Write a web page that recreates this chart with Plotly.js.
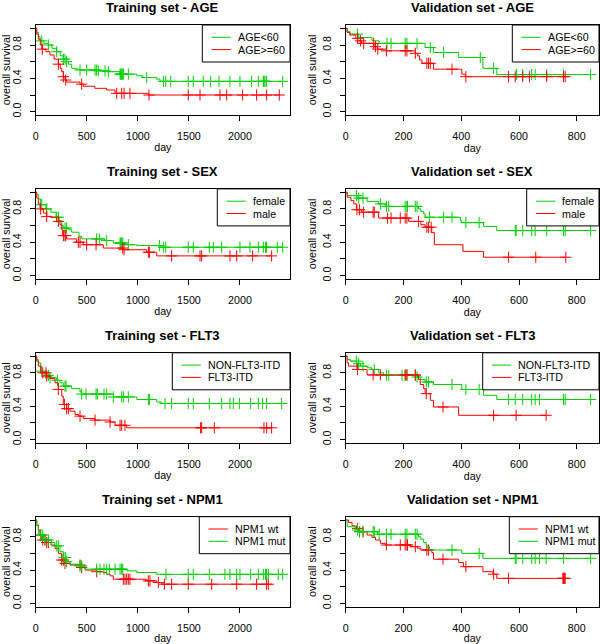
<!DOCTYPE html>
<html><head><meta charset="utf-8">
<script src="https://cdn.plot.ly/plotly-3.0.1.min.js"></script>
<style>html,body{margin:0;padding:0;background:#fff}#chart{width:600px;height:644px}</style>
</head><body><div id="chart"></div>
<script>
const FONT = 'Liberation Sans, Arial, Helvetica, sans-serif';
const GREEN = '#00CD00', RED = '#FF0000';

const panelTitles = ['Training set - AGE','Validation set - AGE','Training set - SEX','Validation set - SEX',
  'Training set - FLT3','Validation set - FLT3','Training set - NPM1','Validation set - NPM1'];
const trainTicks = [0,500,1000,1500,2000];
const validTicks = [0,200,400,600,800];
const survTicks = [0,0.2,0.4,0.6,0.8,1.0];
const survTickText = ['0.0','','0.4','','0.8',''];

// Training set - AGE
const trainAgeLt60Days = [0,10,26,42,80,124,160,205,240,270,300,320,352,400,434,600,700,825,990,1050,1185,1217];
const trainAgeLt60Surv = [1,0.95,0.90,0.85,0.82,0.80,0.76,0.72,0.67,0.63,0.60,0.57,0.52,0.51,0.50,0.49,0.48,0.45,0.43,0.41,0.39,0.364];
const trainAgeLt60Cens = [59,124,206,271,287,303,434,499,581,597,613,679,711,826,832,842,852,858,907,1087,1250,1273,1322,1494,1543,1641,1713,1795,1902,2000,2114,2180,2229,2235,2245,2261,2418];
const trainAgeGe60Days = [0,10,26,45,59,100,140,180,222,240,255,270,287,303,434,467,580,695,777,1103];
const trainAgeGe60Surv = [1,0.93,0.87,0.80,0.75,0.72,0.68,0.63,0.57,0.52,0.48,0.42,0.38,0.355,0.33,0.305,0.28,0.26,0.22,0.20];
const trainAgeGe60Cens = [65,222,271,294,450,793,842,865,923,1109,1494,1609,1804,1870,2026,2163,2261,2385];

// Validation set - AGE
const validAgeLt60Days = [0,5,16,45,91,116,275,304,391,475,523];
const validAgeLt60Surv = [1,0.96,0.93,0.89,0.85,0.82,0.77,0.71,0.65,0.52,0.445];
const validAgeLt60Cens = [41,143,157,206,212,247,293,339,466,512,592,613,644,656,696,754,848];
const validAgeGe60Days = [0,5,14,35,42,55,98,110,140,241,249,256,264,304,402,414];
const validAgeGe60Surv = [1,0.95,0.92,0.88,0.85,0.82,0.78,0.75,0.73,0.70,0.67,0.62,0.58,0.51,0.45,0.42];
const validAgeGe60Cens = [41,51,62,97,103,111,141,206,212,241,281,287,293,368,416,564,587,613,636,696,754,760];

// Training set - SEX
const trainSexFemaleDays = [0,10,26,49,100,150,200,230,255,270,320,352,424,450,679,760,875,990,1217];
const trainSexFemaleSurv = [1,0.97,0.92,0.85,0.80,0.76,0.70,0.66,0.60,0.57,0.55,0.52,0.47,0.44,0.42,0.39,0.37,0.36,0.34];
const trainSexFemaleCens = [59,108,206,222,287,303,597,623,695,826,832,842,852,907,1211,1250,1273,1494,1543,1700,1739,1821,2000,2098,2180,2229,2251,2261,2366,2418];
const trainSexMaleDays = [0,10,26,42,75,108,140,205,238,255,264,303,401,467,662,858,1087,1185];
const trainSexMaleSurv = [1,0.93,0.86,0.80,0.75,0.71,0.70,0.65,0.61,0.55,0.48,0.44,0.40,0.37,0.33,0.31,0.28,0.236];
const trainSexMaleCens = [49,108,222,271,287,294,418,434,499,591,852,865,1103,1113,1331,1609,1625,1902,1968,2124,2310];

// Validation set - SEX
const validSexFemaleDays = [0,5,39,74,114,137,252,260,270,275,397,402,477,523];
const validSexFemaleSurv = [1,0.96,0.93,0.89,0.86,0.83,0.80,0.77,0.74,0.70,0.66,0.635,0.59,0.54];
const validSexFemaleCens = [37,45,60,120,141,149,206,212,214,241,247,290,339,368,416,462,587,590,613,644,656,696,754,760,848];
const validSexMaleDays = [0,5,18,28,37,56,114,218,260,275,298,307,406,477];
const validSexMaleSurv = [1,0.94,0.90,0.86,0.79,0.76,0.69,0.65,0.61,0.58,0.515,0.37,0.29,0.22];
const validSexMaleCens = [39,48,62,95,99,145,157,189,206,212,252,281,287,296,564,658,762];

// Training set - FLT3
const trainFltNonDays = [0,10,26,49,91,140,205,238,270,352,434,450,760,990,1185,1233];
const trainFltNonSurv = [1,0.96,0.92,0.82,0.77,0.74,0.71,0.68,0.64,0.61,0.57,0.545,0.51,0.48,0.45,0.432];
const trainFltNonCens = [59,124,140,212,287,297,450,493,591,604,669,695,760,842,858,907,1103,1113,1266,1331,1494,1543,1700,1821,1902,1935,1994,2105,2180,2222,2261,2408];
const trainFltItdDays = [0,10,26,49,108,140,189,222,255,270,303,336,385,418,467,580,728,777,891];
const trainFltItdSurv = [1,0.94,0.88,0.80,0.76,0.73,0.68,0.60,0.52,0.42,0.37,0.34,0.30,0.28,0.252,0.232,0.21,0.17,0.14];
const trainFltItdCens = [69,101,108,222,281,303,320,434,581,728,826,842,874,1615,1625,1749,2235,2261,2310];

// Validation set - FLT3
const validFltNonDays = [0,5,16,39,51,74,91,114,131,247,258,275,304,402,477,523];
const validFltNonSurv = [1,0.96,0.94,0.91,0.88,0.86,0.84,0.80,0.77,0.75,0.72,0.69,0.66,0.60,0.53,0.48];
const validFltNonCens = [37,45,60,99,141,149,195,206,212,241,247,279,287,368,416,462,564,587,613,644,656,671,754,760,848];
const validFltItdDays = [0,5,10,39,74,252,258,270,275,293,304,391];
const validFltItdSurv = [1,0.92,0.88,0.84,0.775,0.72,0.66,0.61,0.55,0.47,0.39,0.29];
const validFltItdCens = [41,95,120,206,212,241,279,337,512,590,694];

// Training set - NPM1
const trainNpmWtDays = [0,10,26,42,60,100,150,189,222,255,287,336,450,483,597,662,695,728,760,1087,1185,1233];
const trainNpmWtSurv = [1,0.94,0.88,0.82,0.76,0.73,0.70,0.66,0.60,0.52,0.48,0.46,0.43,0.40,0.38,0.37,0.35,0.33,0.29,0.27,0.25,0.23];
const trainNpmWtCens = [49,69,91,108,124,255,271,287,434,450,597,858,874,891,907,923,1103,1119,1201,1260,1331,1494,1723,1968,2163,2261,2278];
const trainNpmMutDays = [0,10,26,75,157,189,238,270,303,336,418,483,891,990,1185];
const trainNpmMutSurv = [1,0.93,0.82,0.76,0.73,0.69,0.62,0.55,0.50,0.47,0.45,0.41,0.39,0.37,0.348];
const trainNpmMutCens = [49,69,91,124,206,222,277,294,303,434,450,597,630,669,695,721,777,826,842,852,1276,1494,1543,1700,1853,1902,1968,2000,2105,2180,2229,2251,2261,2278,2375,2418];

// Validation set - NPM1
const validNpmWtDays = [0,10,22,37,45,74,91,103,120,137,224,249,260,298,304,391,408,475,510,523];
const validNpmWtSurv = [1,0.97,0.93,0.90,0.86,0.82,0.79,0.76,0.72,0.70,0.68,0.66,0.64,0.61,0.53,0.49,0.44,0.38,0.35,0.30];
const validNpmWtCens = [41,48,60,141,189,206,212,214,241,281,287,337,416,512,564,752,754,757,760];
const validNpmMutDays = [0,5,33,45,110,252,260,270,279,290,402,475];
const validNpmMutSurv = [1,0.92,0.88,0.86,0.83,0.80,0.77,0.73,0.68,0.64,0.60,0.54];
const validNpmMutCens = [41,48,60,95,99,116,141,157,206,212,241,247,368,462,587,590,613,644,656,671,694,754,848];

// ---- panels (references to the arrays above) ----
const panels = [
  {train:true, series:[
    {name:'AGE&lt;60', color:GREEN, t:trainAgeLt60Days, s:trainAgeLt60Surv, c:trainAgeLt60Cens},
    {name:'AGE&gt;=60', color:RED, t:trainAgeGe60Days, s:trainAgeGe60Surv, c:trainAgeGe60Cens}], legLeft:202.3},
  {train:false, series:[
    {name:'AGE&lt;60', color:GREEN, t:validAgeLt60Days, s:validAgeLt60Surv, c:validAgeLt60Cens},
    {name:'AGE&gt;=60', color:RED, t:validAgeGe60Days, s:validAgeGe60Surv, c:validAgeGe60Cens}], legLeft:512.3},
  {train:true, series:[
    {name:'female', color:GREEN, t:trainSexFemaleDays, s:trainSexFemaleSurv, c:trainSexFemaleCens},
    {name:'male', color:RED, t:trainSexMaleDays, s:trainSexMaleSurv, c:trainSexMaleCens}], legLeft:217.3},
  {train:false, series:[
    {name:'female', color:GREEN, t:validSexFemaleDays, s:validSexFemaleSurv, c:validSexFemaleCens},
    {name:'male', color:RED, t:validSexMaleDays, s:validSexMaleSurv, c:validSexMaleCens}], legLeft:526.7},
  {train:true, series:[
    {name:'NON-FLT3-ITD', color:GREEN, t:trainFltNonDays, s:trainFltNonSurv, c:trainFltNonCens},
    {name:'FLT3-ITD', color:RED, t:trainFltItdDays, s:trainFltItdSurv, c:trainFltItdCens}], legLeft:172.3},
  {train:false, series:[
    {name:'NON-FLT3-ITD', color:GREEN, t:validFltNonDays, s:validFltNonSurv, c:validFltNonCens},
    {name:'FLT3-ITD', color:RED, t:validFltItdDays, s:validFltItdSurv, c:validFltItdCens}], legLeft:482.7},
  {train:true, series:[
    {name:'NPM1 wt', color:RED, t:trainNpmWtDays, s:trainNpmWtSurv, c:trainNpmWtCens},
    {name:'NPM1 mut', color:GREEN, t:trainNpmMutDays, s:trainNpmMutSurv, c:trainNpmMutCens}], legLeft:199.3},
  {train:false, series:[
    {name:'NPM1 wt', color:RED, t:validNpmWtDays, s:validNpmWtSurv, c:validNpmWtCens},
    {name:'NPM1 mut', color:GREEN, t:validNpmMutDays, s:validNpmMutSurv, c:validNpmMutCens}], legLeft:509.3}
];

// ---- geometry (pixels) ----
const W = 600, H = 644;
const colX = [[35.7, 290], [345.7, 599]];
const ROW_STEP = 163.9, BOX_TOP = 25, BOX_H = 90;
const px2x = p => p / W, px2y = p => 1 - p / H;

function survAt(t, s, x) { let v = s[0]; for (let i = 0; i < t.length; i++) if (t[i] <= x) v = s[i]; return v; }

const data = [];
const layout = {
  width: W, height: H, margin: {l:0, r:0, t:0, b:0},
  paper_bgcolor: '#fff', plot_bgcolor: '#fff', showlegend: false,
  font: {family: FONT, size: 10.7, color: '#000'},
  annotations: [], shapes: []
};
const axFont = {family: FONT, size: 10.7, color: '#000'};

panels.forEach((p, i) => {
  const row = Math.floor(i / 2), col = i % 2;
  const top = BOX_TOP + row * ROW_STEP, bot = top + BOX_H;
  const [xl, xr] = colX[col];
  const n = i + 1, xk = 'xaxis' + (n > 1 ? n : ''), yk = 'yaxis' + (n > 1 ? n : '');
  const xid = 'x' + (n > 1 ? n : ''), yid = 'y' + (n > 1 ? n : '');
  const ticks = p.train ? trainTicks : validTicks;
  layout[xk] = {
    domain: [px2x(xl), px2x(xr)], anchor: yid, range: [0, p.train ? 2490 : 877],
    tickmode: 'array', tickvals: ticks, ticktext: ticks.map(String),
    ticks: 'outside', ticklen: 5, tickwidth: 1, tickcolor: '#000', ticklabelstandoff: 6,
    showline: true, linecolor: '#000', linewidth: 1, mirror: true,
    showgrid: false, zeroline: false, tickfont: axFont, fixedrange: true,
    title: {text: 'day', font: axFont, standoff: 2}
  };
  layout[yk] = {
    domain: [px2y(bot), px2y(top)], anchor: xid, range: [-0.04, 1.04],
    tickmode: 'array', tickvals: survTicks, ticktext: survTickText, tickangle: -90,
    ticks: 'outside', ticklen: 5, tickwidth: 1, tickcolor: '#000', ticklabelstandoff: 4,
    showline: true, linecolor: '#000', linewidth: 1, mirror: true,
    showgrid: false, zeroline: false, tickfont: axFont, fixedrange: true,
    title: {text: 'overall survival', font: axFont, standoff: 2}
  };
  layout.annotations.push({
    xref: 'paper', yref: 'paper', x: px2x((xl + xr) / 2), y: px2y(7.5 + row * ROW_STEP),
    xanchor: 'center', yanchor: 'middle', showarrow: false,
    text: '<b>' + panelTitles[i] + '</b>', font: {family: FONT, size: 13, color: '#000'}
  });
  // legend box (R style)
  const legL = p.legLeft, legH = 37;
  layout.shapes.push({type: 'rect', xref: 'paper', yref: 'paper', layer: 'above',
    x0: px2x(legL), x1: px2x(xr), y0: px2y(top), y1: px2y(top + legH),
    line: {color: '#000', width: 1}, fillcolor: '#fff'});
  p.series.forEach((s, k) => {
    const end = Math.max(s.t[s.t.length - 1], s.c[s.c.length - 1]);
    data.push({
      type: 'scatter', mode: 'lines', xaxis: xid, yaxis: yid, name: s.name,
      x: s.t.concat([end]), y: s.s.concat([s.s[s.s.length - 1]]),
      line: {color: s.color, width: 1, shape: 'hv'}, hoverinfo: 'skip'
    });
    data.push({
      type: 'scatter', mode: 'markers', xaxis: xid, yaxis: yid, name: s.name + ' censored',
      x: s.c, y: s.c.map(c => survAt(s.t, s.s, c)),
      marker: {symbol: 'cross-thin', size: 8, color: s.color, line: {width: 1, color: s.color}},
      hoverinfo: 'skip'
    });
    const ly = top + 12.3 * (k + 1);
    layout.shapes.push({type: 'line', xref: 'paper', yref: 'paper', layer: 'above',
      x0: px2x(legL + 9.2), x1: px2x(legL + 28.5), y0: px2y(ly), y1: px2y(ly),
      line: {color: s.color, width: 1}});
    layout.annotations.push({xref: 'paper', yref: 'paper', x: px2x(legL + 34.5), y: px2y(ly),
      xanchor: 'left', yanchor: 'middle', showarrow: false, text: s.name, borderpad: 0,
      font: {family: FONT, size: 10.7, color: '#000'}});
  });
});

Plotly.newPlot('chart', data, layout, {staticPlot: true, displayModeBar: false});
</script></body></html>
